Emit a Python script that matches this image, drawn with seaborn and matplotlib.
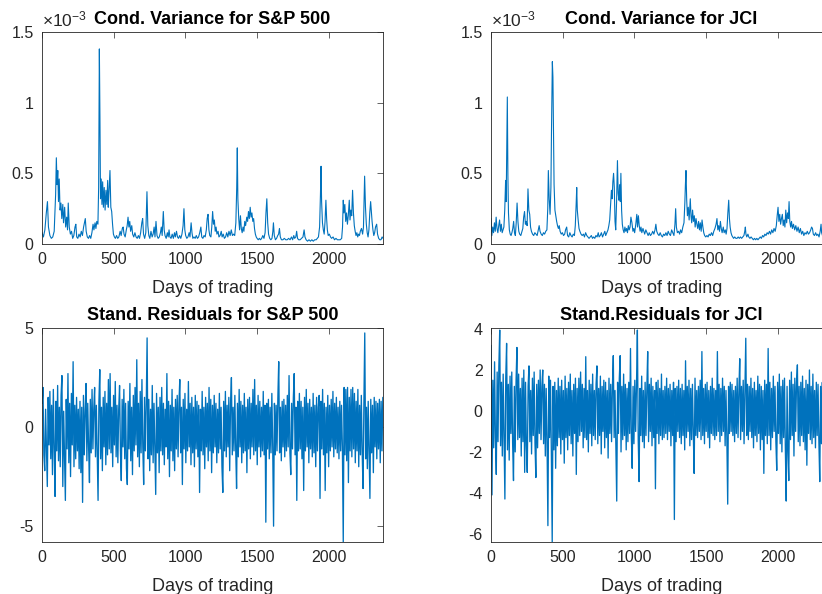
import numpy as np
import pandas as pd
import seaborn as sns
import matplotlib.pyplot as plt
from matplotlib.ticker import FuncFormatter

# ---- conditional variance, S&P 500 (day, value in 1e-4) ----
sp_var_days = [
    0, 10, 20, 30, 38, 45, 55, 65, 75, 85, 95, 100, 105, 110, 115, 120, 126, 132, 138, 145,
    150, 158, 165, 172, 178, 183, 190, 198, 206, 214, 222, 230, 236, 242, 250, 258, 266, 274, 282, 290,
    296, 302, 308, 316, 324, 332, 340, 348, 356, 362, 370, 376, 382, 390, 395, 400, 404, 408, 413, 418,
    423, 428, 434, 440, 446, 452, 458, 462, 467, 474, 480, 486, 492, 498, 505, 512, 520, 528, 536, 545,
    552, 560, 566, 572, 580, 588, 594, 600, 606, 612, 618, 626, 632, 640, 648, 656, 664, 672, 680, 688,
    696, 702, 708, 716, 724, 732, 738, 745, 752, 760, 768, 775, 782, 788, 795, 802, 810, 818, 826, 832,
    838, 846, 852, 858, 866, 874, 880, 886, 892, 900, 908, 916, 924, 930, 938, 945, 952, 960, 968, 976,
    984, 990, 996, 1002, 1010, 1018, 1026, 1032, 1040, 1046, 1052, 1060, 1068, 1076, 1084, 1092, 1100, 1108, 1114, 1122,
    1130, 1138, 1146, 1152, 1158, 1164, 1170, 1178, 1184, 1190, 1196, 1202, 1208, 1214, 1220, 1228, 1234, 1242, 1250, 1256,
    1264, 1272, 1280, 1288, 1296, 1304, 1312, 1320, 1328, 1336, 1344, 1352, 1358, 1362, 1366, 1372, 1378, 1384, 1390, 1396,
    1402, 1408, 1414, 1420, 1428, 1434, 1440, 1446, 1452, 1458, 1464, 1470, 1476, 1482, 1488, 1494, 1500, 1508, 1516, 1524,
    1532, 1540, 1548, 1556, 1562, 1568, 1574, 1580, 1588, 1596, 1604, 1610, 1614, 1620, 1628, 1636, 1644, 1650, 1656, 1662,
    1670, 1680, 1690, 1700, 1710, 1720, 1730, 1740, 1748, 1756, 1762, 1770, 1776, 1782, 1790, 1800, 1810, 1820, 1828, 1834,
    1842, 1852, 1862, 1872, 1882, 1892, 1902, 1912, 1920, 1928, 1936, 1942, 1946, 1950, 1956, 1962, 1968, 1974, 1980, 1985,
    1990, 1996, 2004, 2012, 2020, 2030, 2040, 2050, 2060, 2070, 2080, 2090, 2096, 2101, 2106, 2112, 2118, 2124, 2130, 2136,
    2143, 2148, 2154, 2160, 2166, 2172, 2178, 2184, 2190, 2196, 2202, 2208, 2214, 2220, 2228, 2236, 2242, 2250, 2256, 2262,
    2268, 2274, 2280, 2286, 2292, 2297, 2302, 2308, 2314, 2320, 2326, 2334, 2340, 2348, 2356, 2364, 2372, 2378]
sp_var = [
    0.8, 0.5, 1.0, 2.2, 3.0, 1.2, 0.6, 0.4, 0.5, 0.9, 3.5, 6.1, 4.2, 5.2, 3.0, 4.6, 2.4, 2.9, 1.8, 2.8,
    1.5, 2.6, 1.2, 1.9, 1.0, 2.9, 1.2, 0.7, 0.9, 0.4, 0.6, 1.2, 1.4, 0.5, 0.4, 0.7, 0.5, 0.9, 0.6, 1.2,
    1.5, 1.8, 0.9, 0.5, 0.4, 0.6, 0.4, 0.8, 1.4, 1.0, 1.5, 1.1, 1.6, 1.4, 4.0, 13.8, 9.0, 3.2, 4.6, 2.8,
    4.4, 2.6, 4.0, 2.4, 3.8, 2.8, 4.5, 2.6, 3.6, 5.2, 2.6, 2.3, 1.4, 0.7, 0.5, 0.4, 0.6, 0.4, 0.5, 0.9,
    0.6, 1.1, 1.2, 0.7, 0.5, 1.0, 1.3, 1.9, 1.2, 1.6, 0.9, 1.3, 0.7, 0.5, 0.8, 0.5, 0.4, 0.6, 0.4, 0.8,
    1.5, 1.8, 0.7, 0.4, 0.8, 3.7, 1.3, 0.6, 0.4, 0.9, 0.5, 0.7, 1.2, 0.5, 1.6, 0.6, 0.4, 0.5, 0.8, 1.2,
    0.6, 2.3, 1.0, 0.6, 0.4, 0.8, 0.5, 1.0, 0.5, 0.4, 0.7, 0.4, 0.8, 0.5, 0.9, 0.5, 0.4, 0.6, 0.4, 0.7,
    1.3, 2.5, 1.0, 0.6, 0.4, 0.5, 0.8, 0.5, 1.5, 0.8, 0.4, 0.5, 0.4, 0.6, 0.4, 0.5, 0.8, 1.2, 0.5, 0.4,
    0.6, 0.5, 1.0, 1.8, 2.1, 1.0, 0.6, 0.5, 1.2, 2.3, 1.4, 1.7, 0.9, 1.2, 0.7, 0.9, 0.5, 0.6, 0.9, 0.5,
    0.7, 0.4, 0.5, 0.8, 0.5, 0.9, 0.6, 1.0, 0.6, 0.7, 0.6, 1.5, 4.0, 6.8, 3.2, 1.8, 1.0, 2.0, 1.1, 0.8,
    1.2, 0.9, 1.6, 1.3, 1.9, 1.6, 2.3, 1.8, 2.6, 1.9, 2.2, 1.6, 1.8, 1.1, 0.7, 0.5, 0.4, 0.3, 0.4, 0.3,
    0.4, 0.6, 0.4, 0.8, 2.2, 3.2, 1.5, 0.7, 0.4, 0.3, 0.4, 0.9, 1.5, 0.6, 0.3, 0.4, 0.6, 0.7, 1.1, 0.5,
    0.3, 0.3, 0.4, 0.3, 0.3, 0.4, 0.3, 0.5, 0.3, 0.6, 0.4, 0.5, 0.9, 0.4, 0.3, 0.3, 0.4, 0.5, 1.0, 0.5,
    0.3, 0.2, 0.3, 0.2, 0.3, 0.2, 0.3, 0.3, 0.4, 0.5, 1.2, 3.5, 5.5, 3.0, 1.5, 1.0, 0.7, 1.6, 3.1, 1.8,
    1.0, 0.6, 0.7, 0.5, 0.4, 0.5, 0.3, 0.4, 0.3, 0.3, 0.3, 0.4, 1.2, 3.1, 2.2, 2.8, 1.6, 2.2, 1.4, 2.0,
    3.1, 1.7, 2.4, 2.0, 3.8, 2.2, 1.3, 0.9, 0.6, 0.8, 0.5, 0.7, 0.6, 0.9, 1.1, 0.7, 1.2, 4.8, 2.6, 1.4,
    0.8, 0.5, 1.0, 2.2, 3.0, 2.3, 1.6, 1.0, 0.6, 0.8, 1.2, 1.4, 0.7, 0.4, 0.3, 0.3, 0.5, 0.4]

# ---- conditional variance, JCI (day, value in 1e-4) ----
jci_var_days = [
    0, 6, 12, 18, 24, 30, 36, 42, 48, 54, 60, 66, 72, 78, 84, 90, 96, 102, 106, 110,
    114, 118, 122, 128, 134, 140, 146, 152, 158, 164, 170, 176, 182, 188, 194, 200, 208, 216, 222, 228,
    234, 240, 246, 252, 258, 264, 270, 276, 282, 290, 298, 306, 314, 322, 330, 336, 342, 350, 358, 366,
    374, 382, 390, 396, 400, 406, 412, 418, 422, 428, 432, 436, 440, 446, 452, 458, 464, 470, 476, 482,
    490, 498, 506, 514, 520, 528, 534, 542, 550, 558, 566, 574, 582, 588, 594, 598, 602, 608, 614, 620,
    628, 636, 645, 652, 660, 668, 676, 684, 692, 700, 708, 716, 724, 732, 740, 748, 754, 762, 770, 778,
    786, 794, 800, 808, 816, 822, 828, 834, 840, 845, 850, 855, 860, 865, 870, 876, 882, 887, 892, 897,
    902, 906, 911, 916, 922, 928, 934, 940, 946, 952, 958, 964, 970, 976, 983, 990, 996, 1002, 1010, 1017,
    1022, 1028, 1034, 1040, 1046, 1052, 1060, 1066, 1072, 1080, 1088, 1096, 1104, 1112, 1120, 1128, 1136, 1144, 1150, 1156,
    1164, 1172, 1180, 1188, 1196, 1204, 1212, 1220, 1228, 1236, 1244, 1252, 1260, 1268, 1276, 1283, 1288, 1293, 1300, 1308,
    1316, 1322, 1330, 1338, 1346, 1352, 1356, 1360, 1365, 1370, 1376, 1382, 1390, 1395, 1400, 1406, 1412, 1418, 1424, 1430,
    1436, 1442, 1448, 1454, 1460, 1466, 1472, 1478, 1484, 1490, 1498, 1506, 1514, 1522, 1530, 1538, 1546, 1554, 1562, 1570,
    1576, 1582, 1588, 1594, 1600, 1606, 1612, 1620, 1626, 1634, 1640, 1646, 1652, 1658, 1663, 1668, 1674, 1680, 1686, 1692,
    1700, 1708, 1716, 1724, 1732, 1740, 1748, 1756, 1764, 1770, 1774, 1778, 1784, 1792, 1798, 1806, 1814, 1822, 1830, 1838,
    1846, 1854, 1862, 1870, 1878, 1886, 1894, 1902, 1910, 1918, 1926, 1934, 1942, 1950, 1958, 1966, 1974, 1982, 1990, 1996,
    2002, 2008, 2014, 2020, 2026, 2032, 2038, 2044, 2050, 2056, 2062, 2068, 2074, 2079, 2084, 2090, 2096, 2102, 2110, 2118,
    2126, 2134, 2142, 2150, 2158, 2166, 2174, 2182, 2190, 2198, 2206, 2214, 2222, 2230, 2236, 2242, 2248, 2256, 2264, 2272,
    2280, 2288, 2296, 2302, 2306, 2312, 2320, 2330, 2340, 2350, 2360, 2370, 2378]
jci_var = [
    1.8, 0.6, 1.2, 0.8, 1.5, 0.9, 1.9, 1.1, 0.8, 1.3, 1.7, 0.9, 1.4, 0.8, 1.0, 1.2, 2.4, 4.5, 3.0, 7.0,
    10.4, 4.8, 2.2, 1.0, 0.7, 0.6, 0.8, 1.1, 1.6, 0.8, 0.6, 1.5, 2.9, 1.6, 0.9, 0.7, 0.6, 0.9, 1.1, 1.9,
    2.3, 1.4, 1.6, 1.3, 3.9, 2.4, 2.1, 1.2, 0.9, 0.7, 0.6, 0.8, 0.7, 0.6, 1.0, 1.3, 0.9, 0.7, 0.6, 0.8,
    0.7, 0.9, 1.0, 2.5, 5.2, 3.2, 2.1, 4.0, 8.0, 12.9, 11.8, 8.0, 4.2, 2.4, 2.0, 1.6, 1.3, 1.1, 1.3, 0.9,
    0.7, 0.8, 0.6, 0.7, 1.0, 1.2, 0.6, 0.5, 0.8, 0.6, 0.5, 0.7, 0.6, 1.3, 2.8, 4.0, 2.4, 1.7, 1.1, 0.9,
    0.7, 0.6, 0.7, 0.5, 0.8, 0.6, 0.5, 0.4, 0.5, 0.6, 0.4, 0.5, 0.4, 0.6, 0.5, 0.8, 0.5, 0.6, 0.8, 0.5,
    0.7, 0.9, 0.6, 0.8, 1.0, 1.3, 1.7, 2.8, 3.8, 3.2, 4.4, 5.0, 4.0, 1.6, 1.0, 3.0, 5.9, 3.6, 3.1, 4.2,
    3.0, 5.0, 2.4, 1.4, 1.0, 0.8, 1.2, 0.9, 1.1, 0.8, 1.3, 1.0, 1.2, 1.9, 1.5, 0.9, 1.1, 0.8, 1.4, 2.1,
    1.2, 2.0, 1.3, 0.9, 1.2, 0.8, 1.1, 0.9, 0.7, 1.0, 0.8, 0.6, 0.8, 0.6, 0.7, 0.9, 0.7, 1.0, 1.4, 0.9,
    0.7, 0.6, 0.8, 0.6, 0.5, 0.7, 0.6, 0.8, 0.6, 0.9, 0.7, 0.6, 1.0, 0.8, 0.6, 1.4, 2.5, 1.2, 0.8, 0.9,
    0.7, 1.0, 0.8, 1.2, 1.5, 2.9, 4.2, 5.2, 3.1, 2.0, 2.6, 1.7, 3.2, 2.0, 1.5, 2.4, 1.6, 2.0, 1.2, 1.8,
    1.4, 1.1, 1.6, 1.0, 1.5, 0.9, 1.7, 1.2, 0.8, 0.6, 0.5, 0.6, 0.5, 0.7, 0.6, 0.8, 0.6, 0.9, 1.1, 1.4,
    1.8, 1.0, 1.3, 0.9, 1.6, 1.1, 0.8, 1.2, 0.8, 1.0, 0.7, 1.1, 2.2, 3.1, 1.8, 1.2, 0.8, 0.6, 0.5, 0.4,
    0.5, 0.4, 0.4, 0.5, 0.4, 0.5, 0.4, 0.5, 0.6, 0.9, 1.2, 0.7, 0.5, 0.7, 0.5, 0.4, 0.5, 0.4, 0.3, 0.4,
    0.3, 0.4, 0.3, 0.4, 0.5, 0.4, 0.6, 0.5, 0.7, 0.6, 0.8, 0.7, 0.9, 0.7, 1.0, 0.8, 1.1, 0.9, 1.3, 2.0,
    2.6, 1.6, 2.1, 1.4, 1.8, 2.1, 1.3, 1.7, 1.2, 2.4, 1.5, 2.2, 1.8, 3.0, 1.6, 1.2, 1.6, 1.1, 1.4, 1.0,
    1.3, 0.9, 1.2, 0.8, 1.1, 0.7, 0.9, 0.6, 0.8, 0.7, 0.9, 0.7, 0.8, 1.0, 1.2, 1.1, 0.7, 0.6, 0.8, 0.6,
    0.7, 0.5, 0.9, 1.4, 0.8, 0.6, 0.9, 0.7, 0.8, 0.6, 0.8, 0.7, 0.6]

# ---- standardized residuals, one reading every 6 trading days ----
resid_step = 6
sp_resid = [
    1.2, 2.0, -1.4, -2.2, 0.9, -1.1, -3.0, 1.5, -0.9, 1.8, -1.6, 1.1, -2.4, 1.9, -1.0, -3.5, 1.3, -1.2, 2.1, -1.7,
    1.0, -2.0, 1.6, 2.6, -3.0, 0.8, -1.5, -3.7, 1.4, -1.1, 2.7, -1.8, 1.2, -2.5, 1.7, -0.9, 3.3, -2.0, 1.1, -1.6,
    1.5, -1.2, 0.9, -2.1, 1.3, -2.3, 1.0, -3.8, 1.6, -1.4, 0.8, 2.2, -1.7, 1.2, -1.0, -2.8, 1.4, -1.3, 1.9, -1.1,
    0.9, 2.0, -1.5, 1.1, -1.2, -3.7, 1.3, 2.9, -1.6, 1.0, -2.2, 1.5, -1.0, 1.8, -1.9, 1.2, -1.4, 2.4, -1.1, 2.7,
    -1.3, 1.0, -2.0, 1.6, -0.9, 2.3, -1.5, 1.1, -1.8, 0.9, 2.1, -1.2, -2.7, 1.4, -1.0, 1.9, -1.6, 1.2, -2.1, -2.9,
    1.3, -1.1, 2.2, -1.7, 1.0, -2.4, 1.6, -1.2, 2.0, -0.9, 3.4, -1.5, 1.2, -2.0, 1.8, -1.3, 2.4, -1.0, -2.9, 1.5,
    -1.2, 1.1, 4.5, -1.6, 1.4, -2.2, 0.9, -1.4, 2.1, -1.8, 1.2, -1.1, -3.4, 1.7, -1.3, 1.0, -2.3, 1.5, -1.2, 2.0,
    -1.4, 1.2, -1.9, 0.9, -1.0, 2.7, -1.6, 1.3, -2.5, 1.1, -1.2, 1.9, -1.7, 1.0, -2.2, 1.4, -1.1, 1.6, -1.5, 1.2,
    2.4, -1.3, 1.0, -2.9, 1.4, -1.1, 1.7, -1.8, 0.9, -1.2, 2.3, -1.0, 1.2, -1.9, 1.5, -1.3, 1.0, -2.0, 1.6, -1.1,
    1.3, -1.5, 1.1, -3.3, 0.9, -1.2, 1.8, -1.4, 1.0, -2.1, 1.5, -1.0, 1.2, -1.7, 2.0, -1.2, 1.4, -2.3, 1.1, -1.3,
    1.6, -1.0, 1.2, -1.8, 0.9, -1.3, 1.7, -1.1, 1.0, -2.0, -3.3, 1.3, -1.2, 1.8, -1.5, 1.1, -1.0, 1.5, -2.2, 1.2,
    2.5, -1.4, 1.0, -1.2, 1.6, -1.1, -3.1, 1.2, -1.5, 1.9, -1.0, 1.3, -1.8, 1.1, -1.3, 1.7, -1.2, 1.0, -2.3, 1.4,
    -1.1, 1.5, -1.6, 1.2, -1.0, 1.9, -1.4, 2.4, -1.2, 1.1, -1.9, 1.6, -1.0, 1.3, -1.5, 1.0, -1.2, 1.8, -1.4, 1.1,
    -4.8, 1.2, -1.1, 1.4, -1.6, 1.0, -1.3, 1.7, -1.0, -5.0, 1.2, -1.4, 1.1, -1.2, 1.5, 3.3, -1.3, 1.0, -1.7, 1.3,
    -1.0, 1.4, -1.5, 1.1, -1.2, 1.6, -1.0, 2.6, -1.3, -2.4, 1.2, -1.1, 1.5, 2.7, -1.4, 1.0, -3.7, 1.3, -1.2, 1.7,
    -1.1, 1.3, -1.6, 1.0, -3.2, 1.5, -1.2, 1.9, -1.0, 1.2, -1.8, 1.4, -1.1, 1.0, -1.5, 1.7, -1.3, 1.1, -2.0, 1.5,
    -1.2, 1.0, 1.6, -3.6, 1.3, -1.1, 1.9, -1.4, 1.2, -3.2, 1.0, -1.3, 1.6, -2.0, 1.1, -1.2, 1.4, -1.0, 1.8, -1.5,
    1.2, -1.1, 1.5, -1.3, 1.0, -1.6, 1.3, -1.2, 1.1, -1.0, -5.8, 2.0, -1.4, 1.9, -1.7, 2.0, -2.8, 1.5, -1.2, 1.9,
    -1.5, 2.0, -1.1, 1.7, -1.8, 1.3, -1.2, 1.9, -2.0, 1.1, -1.4, 1.6, -1.3, -3.1, 1.2, 4.75, -1.6, 1.0, -2.1, 1.3,
    -1.2, -3.6, 1.4, -1.3, 1.1, -2.3, 1.5, -1.0, 1.3, -1.6, 1.2, -1.1, 1.4, -1.8, 1.3, -1.2, 1.5]
jci_resid = [
    3.2, -4.1, 1.5, -1.8, 2.4, -1.3, -3.1, 1.9, -1.5, 2.2, 3.95, -1.7, 1.4, -2.2, 1.8, -1.2, -4.3, 1.6, 3.3, -1.9,
    1.3, -2.4, 1.7, -1.1, 1.9, -1.6, -3.4, 1.2, -2.0, 1.5, 3.1, -1.4, 1.8, -1.3, 1.1, -2.2, 1.6, -1.5, 2.0, -3.0,
    1.4, -1.7, -3.0, 1.2, 2.2, -1.5, 1.0, -2.1, 1.6, -1.2, 1.9, -1.6, -3.25, 1.3, -1.8, 1.5, -1.1, 2.0, -1.4, 1.2,
    2.0, -1.6, 1.3, -2.2, 1.1, -1.5, -5.6, 1.7, -1.3, 1.5, -2.0, -6.4, 1.2, -1.9, 1.4, -2.8, 1.0, -1.7, 1.6, -1.3,
    1.2, -2.1, 1.5, -1.4, 1.0, -2.55, 1.7, -1.3, 1.1, -1.9, 1.4, -1.2, 1.8, -1.6, 1.0, -2.2, 1.3, -1.1, 1.6, -3.1,
    1.1, -1.5, 1.6, -1.2, 1.9, -1.0, 1.3, -1.8, 1.1, -1.3, 2.65, -1.4, 1.0, -2.0, 1.5, -1.1, 1.3, -1.7, 1.8, -1.2,
    1.0, -1.4, 1.3, 2.2, -1.6, 1.1, -1.2, 1.7, -2.1, 1.2, -1.0, 1.5, -1.8, 1.4, -1.3, 1.0, -2.3, 1.6, -1.1, 1.3,
    -1.5, 1.2, 2.7, -1.3, 1.0, -1.8, -4.4, 1.4, -1.1, 1.6, 2.7, -2.0, 1.2, -1.4, 1.8, -1.2, 1.3, -1.9, 1.1, -1.5,
    1.4, -1.1, 3.05, -1.3, -2.8, 1.2, -1.6, 1.5, -1.0, 1.3, 3.95, -1.4, -3.45, 1.1, -1.2, 1.7, -1.5, 1.0, -1.8, 1.4,
    -1.2, 1.1, 2.9, -1.5, 1.3, -1.0, 1.6, -1.7, 1.2, -1.3, 1.0, -3.8, 1.4, -1.1, 1.5, -1.6, 1.1, -1.2, 1.8, -1.4,
    1.0, -1.3, 1.2, -1.1, 1.6, -1.4, 1.1, -1.0, 1.3, -1.7, 1.0, -1.2, 1.4, -5.3, 1.1, -1.5, 1.2, -1.0, 1.5, -1.3,
    1.1, -1.6, 1.3, -1.2, 1.0, -1.9, 2.45, -1.3, 1.2, -1.0, 1.5, -1.7, 1.1, -1.4, 1.3, -1.1, -3.05, 1.6, -1.2, 1.0,
    -1.3, 1.2, -1.0, 1.5, -1.4, 2.9, -1.2, 1.1, -1.6, 1.3, -1.0, 1.4, -1.3, 1.0, -1.8, 1.2, -1.1, 1.6, -1.2, 1.1,
    -1.4, 1.0, -1.2, 2.9, -1.0, 1.3, -1.5, 1.1, -1.2, 1.6, -1.0, 1.2, -1.7, 1.0, -1.3, -4.55, 1.2, -1.1, 1.4, -1.0,
    1.3, -1.2, 1.0, -1.5, 1.2, -1.1, 1.6, -1.3, 1.0, 2.55, -1.4, 1.2, -1.0, 1.5, -1.6, 1.1, 3.55, -1.2, 1.3, -1.4,
    1.2, -1.0, 1.6, -1.3, 1.1, -1.8, 1.4, -1.2, 1.0, -1.5, 1.7, -1.1, 1.3, -1.9, 1.2, -1.4, 1.0, -3.05, 1.5, -1.2,
    1.3, -1.6, 3.05, -1.2, 1.4, -1.9, 1.1, -1.3, 1.7, -1.0, 1.2, -1.5, -2.9, 1.4, -1.1, 1.8, -1.6, 1.2, -2.0, 1.5,
    -1.3, 1.6, -1.8, -4.4, 1.2, -2.0, -3.4, 1.5, -1.4, 1.9, -1.2, 1.3, -2.2, 1.6, -1.0, 1.4, 2.25, -1.5, 1.2, -1.7,
    1.4, -1.2, 1.7, -1.5, 1.1, -1.9, 1.5, -2.65, 1.3, -1.1, 2.0, -1.4, 1.2, -1.6, 1.8, -1.3, 1.0, -1.8, 1.4, -1.2,
    1.3, -1.5, -3.45, 1.2, -1.6, 1.4, -1.1, 1.7, -1.3, 1.0, -1.8, 1.5, -1.2, 1.3, -1.4, 1.1, -1.0]

n_days = 2378
line_color = "#0072BD"
ink = "#262626"

sns.set_theme(style="white")
plt.rcParams['font.family'] = ['Liberation Sans', 'DejaVu Sans']
plt.rcParams['axes.unicode_minus'] = False
plt.rcParams['mathtext.fontset'] = 'custom'
plt.rcParams['mathtext.rm'] = 'Liberation Sans'
plt.rcParams['mathtext.it'] = 'Liberation Sans'

sp_var_df = pd.DataFrame({"day": sp_var_days, "var": np.array(sp_var) * 1e-4})
jci_var_df = pd.DataFrame({"day": jci_var_days, "var": np.array(jci_var) * 1e-4})
sp_res_df = pd.DataFrame({"day": 1 + resid_step * np.arange(len(sp_resid)), "res": sp_resid})
jci_res_df = pd.DataFrame({"day": 1 + resid_step * np.arange(len(jci_resid)), "res": jci_resid})

fig = plt.figure(figsize=(8.22, 5.94), dpi=100)
w = 0.4148
ax_sv = fig.add_axes([0.0511, 0.5892, w, 0.357])
ax_jv = fig.add_axes([0.5973, 0.5892, w, 0.357])
ax_sr = fig.add_axes([0.0511, 0.0875, w, 0.3603])
ax_jr = fig.add_axes([0.5973, 0.0875, w, 0.3603])

sns.lineplot(data=sp_var_df, x="day", y="var", ax=ax_sv, color=line_color, linewidth=0.8)
sns.lineplot(data=jci_var_df, x="day", y="var", ax=ax_jv, color=line_color, linewidth=0.8)
sns.lineplot(data=sp_res_df, x="day", y="res", ax=ax_sr, color=line_color, linewidth=0.95)
sns.lineplot(data=jci_res_df, x="day", y="res", ax=ax_jr, color=line_color, linewidth=0.95)

titles = {ax_sv: "Cond. Variance for S&P 500", ax_jv: "Cond. Variance for JCI",
          ax_sr: "Stand. Residuals for S&P 500", ax_jr: "Stand.Residuals for JCI"}

for ax in (ax_sv, ax_jv, ax_sr, ax_jr):
    ax.set_xlim(0, n_days)
    ax.set_xticks([0, 500, 1000, 1500, 2000])
    ax.set_title(titles[ax], fontsize=13, fontweight="bold", color="black", pad=6)
    ax.set_xlabel("Days of trading", fontsize=13, color=ink, labelpad=9)
    ax.set_ylabel("")
    ax.tick_params(direction="in", length=4, width=0.5, colors=ink, labelsize=11.5,
                   top=True, right=True, pad=6)
    for sp in ax.spines.values():
        sp.set_color(ink)
        sp.set_linewidth(0.6)

for ax in (ax_sv, ax_jv):
    ax.set_ylim(0, 1.5e-3)
    ax.set_yticks([0, 0.5e-3, 1e-3, 1.5e-3])
    ax.yaxis.set_major_formatter(FuncFormatter(lambda v, _: f"{v * 1e3:g}"))
    ax.text(0.0, 1.01, r"$\times10^{-3}$", transform=ax.transAxes, ha="left", va="bottom",
            fontsize=12.5, color=ink)

ax_sr.set_ylim(-5.8, 5.0)
ax_sr.set_yticks([-5, 0, 5])
ax_jr.set_ylim(-6.4, 4.05)
ax_jr.set_yticks([-6, -4, -2, 0, 2, 4])

fig.savefig("out.png", dpi=100)
